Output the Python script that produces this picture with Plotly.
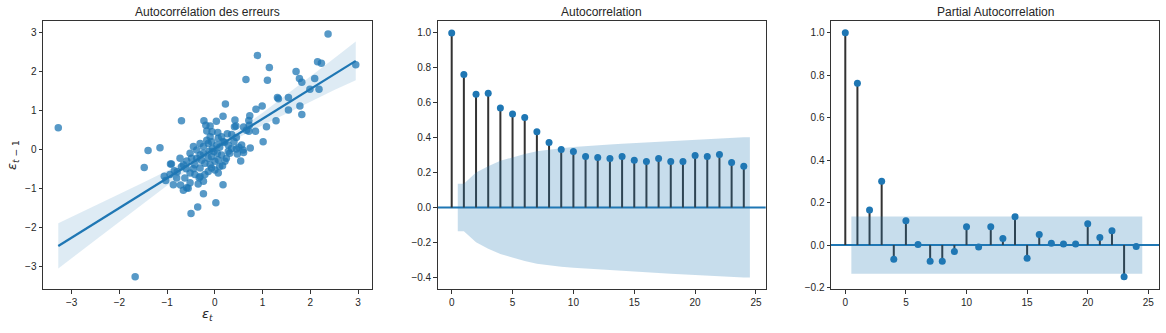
import plotly.graph_objects as go

# ---------------- data ----------------
# residual pairs (eps_t, eps_{t-1})
eps_t = [
    -3.28, -1.67, 2.37, 2.95, 0.89, 1.14, 0.65, 1.10, 1.70, 1.77, 1.82, 2.15, 2.23, 2.09, 1.99, 2.18,
    1.78, 1.82, 1.54, 1.54, 1.31, 1.33, 0.99, 0.86, 0.73, 0.71, 1.28, 1.08, 0.85, 0.71, 1.01, 0.74,
    0.54, 0.60, 0.41, 0.42, 0.44, 0.22, 0.17, 0.03, -0.70, -0.23, -0.19, -0.10, -1.15, -1.40, -1.48,
    -1.06, -1.03, -0.66, -0.56, -0.24, 0.17, 0.02, -0.36, -0.50, -0.35, -0.93,
    -0.17, -0.06, 0.06, 0.26, 0.72, 0.60, 0.66, 0.45, 0.40, 0.56, 0.59, 0.45, 0.24, 0.14, 0.21, 0.16,
    -0.02, 0.04, -0.14, -0.24, -0.45, -0.38, -0.31, -0.52, -0.49, -0.59, -0.66, -0.42, -0.31, -0.21,
    -0.14, -0.07, 0.00, 0.07, -0.52, -0.42, -0.31, -0.21, -0.14, -0.07, -0.33, -0.24, -0.80, -0.87,
    -0.72, -0.94, -0.52, -0.59, -0.17, -0.10, -0.07, 0.07, 0.14, 0.17, 0.28, 0.35, 0.31, -0.31, -0.24,
    -0.38, -0.10, 0.00, 0.10, 0.07, -0.73, -0.79, -0.63, -0.91, 0.50, 0.47, 0.35, 0.10, -0.05, 0.20,
    -0.28, -0.45, -0.60, -0.70, -0.85, 0.28, 0.05, -0.12,
]
eps_lag = [
    0.55, -3.27, 2.96, 2.17, 2.41, 2.10, 1.79, 1.77, 2.00, 1.82, 1.72, 2.25, 2.21, 1.82, 1.54, 1.54,
    1.11, 0.89, 1.33, 1.01, 1.33, 1.30, 1.11, 1.03, 0.86, 0.74, 0.73, 0.58, 0.46, 0.46, 0.19, 0.03,
    -0.30, -0.08, 0.58, 0.75, 0.60, 1.16, 0.85, 0.72, 0.73, 0.73, 0.62, 0.60, 0.04, -0.03, -0.47,
    -0.69, -0.80, -1.05, -1.00, -1.14, -0.91, -1.37, -1.48, -1.65, -0.89, -0.38,
    0.47, 0.45, 0.43, 0.40, 0.62, 0.57, 0.49, 0.30, 0.20, 0.11, -0.02, 0.01, -0.23, -0.15, -0.31, -0.42,
    -0.06, 0.11, 0.15, 0.07, 0.07, -0.02, 0.15, -0.10, -0.23, -0.30, -0.40, -0.40, -0.48, -0.36,
    -0.23, -0.19, -0.31, -0.27, -0.61, -0.65, -0.70, -0.65, -0.57, -0.48, -0.73, -0.82, -0.74, -0.91,
    -0.92, -0.65, -0.86, -0.99, 0.23, 0.32, 0.19, 0.28, 0.32, 0.19, 0.11, 0.02, -0.10, -0.15, -0.10,
    -0.23, -0.40, -0.53, -0.44, -0.61, -0.23, -0.58, -0.74, -0.38, 0.05, -0.12, 0.38, 0.05, 0.02, 0.18,
    -0.28, -0.50, -0.50, -0.45, -0.55, -0.05, -0.10, -0.05,
]

# fitted regression line and its confidence band
fit_slope = 0.763
fit_intercept = 0.02
ci_x = [-3.28, -2.5, -2.0, -1.5, -1.0, -0.5, 0.0, 0.5, 1.0, 1.5, 2.0, 2.5, 2.95]
ci_lo = [-3.06, -2.33, -1.87, -1.39, -0.93, -0.47, -0.05, 0.30, 0.62, 0.92, 1.23, 1.52, 1.77]
ci_hi = [-1.90, -1.45, -1.15, -0.85, -0.55, -0.25, 0.09, 0.50, 0.94, 1.40, 1.87, 2.34, 2.77]

# autocorrelation function
lags = list(range(25))
acf_vals = [1.0, 0.762, 0.649, 0.655, 0.570, 0.536, 0.515, 0.434, 0.372, 0.332, 0.321, 0.292, 0.287,
            0.281, 0.292, 0.270, 0.264, 0.281, 0.264, 0.264, 0.298, 0.292, 0.304, 0.258, 0.236]
# 95% band half-width for lags 1..24
acf_conf = [0.136, 0.200, 0.236, 0.267, 0.289, 0.307, 0.322, 0.333, 0.340, 0.346, 0.352, 0.356,
            0.361, 0.365, 0.369, 0.372, 0.376, 0.380, 0.383, 0.387, 0.391, 0.395, 0.399, 0.402]

# partial autocorrelation function
pacf_vals = [1.0, 0.762, 0.166, 0.301, -0.067, 0.115, 0.003, -0.076, -0.076, -0.030, 0.087, -0.009,
             0.087, 0.031, 0.134, -0.062, 0.050, 0.009, 0.005, 0.005, 0.101, 0.036, 0.068, -0.149, -0.006]
pacf_conf = [0.135] * 24

# ---------------- style ----------------
BLUE = "#1f77b4"
STEM = "#333333"
FRAME = "#333333"
TEXT = "#262626"
FONT = "Liberation Sans, Arial, sans-serif"

W, H = 1166, 333
top_px, bot_px = 21, 293
panels = [(43, 372), (437.7, 765.7), (831, 1159)]
ydom = [1 - bot_px / H, 1 - top_px / H]

fig = go.Figure()

# --- panel 1: scatter with regression fit ---
fig.add_trace(go.Scatter(
    x=eps_t, y=eps_lag, mode="markers", xaxis="x", yaxis="y",
    marker=dict(color=BLUE, size=7.5, opacity=0.75, line=dict(width=0)),
    showlegend=False, hoverinfo="skip"))
fig.add_trace(go.Scatter(
    x=ci_x + ci_x[::-1], y=ci_hi + ci_lo[::-1], mode="lines", fill="toself",
    fillcolor="rgba(31,119,180,0.15)", line=dict(width=0), xaxis="x", yaxis="y",
    showlegend=False, hoverinfo="skip"))
x0, x1 = min(eps_t), max(eps_t)
fig.add_trace(go.Scatter(
    x=[x0, x1], y=[fit_intercept + fit_slope * x0, fit_intercept + fit_slope * x1],
    mode="lines", line=dict(color=BLUE, width=2.2), xaxis="x", yaxis="y",
    showlegend=False, hoverinfo="skip"))


def stem_panel(vals, conf, xa, ya, band):
    sx, sy = [], []
    for k, v in zip(lags, vals):
        sx += [k, k, None]
        sy += [0, v, None]
    fig.add_trace(go.Scatter(x=sx, y=sy, mode="lines", line=dict(color=STEM, width=2),
                             xaxis=xa, yaxis=ya, showlegend=False, hoverinfo="skip"))
    fig.add_trace(go.Scatter(x=lags, y=vals, mode="markers",
                             marker=dict(color=BLUE, size=7, line=dict(width=0)),
                             xaxis=xa, yaxis=ya, showlegend=False, hoverinfo="skip"))
    # band spans half a lag beyond the first and last lag
    bx = [lags[1] - 0.5] + lags[1:] + [lags[-1] + 0.5]
    up = [conf[0]] + conf + [conf[-1]]
    fig.add_trace(go.Scatter(x=bx + bx[::-1], y=up + [-c for c in up[::-1]], mode="lines",
                             fill="toself", fillcolor=band, line=dict(width=0),
                             xaxis=xa, yaxis=ya, showlegend=False, hoverinfo="skip"))


# zero lines (drawn under the confidence band)
for xa, ya in [("x2", "y2"), ("x3", "y3")]:
    fig.add_shape(type="line", xref=f"{xa} domain", yref=ya, x0=0, x1=1, y0=0, y1=0,
                  line=dict(color=BLUE, width=2), layer="below")

stem_panel(acf_vals, acf_conf, "x2", "y2", "rgba(31,119,180,0.25)")
stem_panel(pacf_vals, pacf_conf, "x3", "y3", "rgba(31,119,180,0.25)")

axis_common = dict(showline=True, linecolor=FRAME, linewidth=1, mirror=True,
                   ticks="outside", ticklen=3.5, tickwidth=1, tickcolor=FRAME,
                   showgrid=False, zeroline=False,
                   tickfont=dict(family=FONT, size=10, color=TEXT))


def dom(p):
    return [p[0] / W, p[1] / W]


fig.update_layout(
    width=W, height=H, margin=dict(l=0, r=0, t=0, b=0),
    paper_bgcolor="white", plot_bgcolor="white", showlegend=False,
    xaxis=dict(domain=dom(panels[0]), anchor="y", range=[-3.6, 3.29],
               tickvals=[-3, -2, -1, 0, 1, 2, 3], **axis_common),
    yaxis=dict(domain=ydom, anchor="x", range=[-3.6, 3.3],
               tickvals=[-3, -2, -1, 0, 1, 2, 3], **axis_common),
    xaxis2=dict(domain=dom(panels[1]), anchor="y2", range=[-1.15, 25.8],
                tickvals=[0, 5, 10, 15, 20, 25], **axis_common),
    yaxis2=dict(domain=ydom, anchor="x2", range=[-0.47, 1.07],
                tickvals=[-0.4, -0.2, 0.0, 0.2, 0.4, 0.6, 0.8, 1.0], tickformat=".1f", **axis_common),
    xaxis3=dict(domain=dom(panels[2]), anchor="y3", range=[-1.18, 25.88],
                tickvals=[0, 5, 10, 15, 20, 25], **axis_common),
    yaxis3=dict(domain=ydom, anchor="x3", range=[-0.209, 1.057],
                tickvals=[-0.2, 0.0, 0.2, 0.4, 0.6, 0.8, 1.0], tickformat=".1f", **axis_common),
)

titles = ["Autocorrélation des erreurs", "Autocorrelation", "Partial Autocorrelation"]
for p, t in zip(panels, titles):
    fig.add_annotation(text=t, xref="paper", yref="paper", x=(p[0] + p[1]) / 2 / W, y=ydom[1],
                       xanchor="center", yanchor="bottom", yshift=0, showarrow=False,
                       font=dict(family=FONT, size=12, color=TEXT))

fig.add_annotation(text="<i>ε</i><sub><i>t</i></sub>", xref="paper", yref="paper",
                   x=(panels[0][0] + panels[0][1]) / 2 / W, y=1 - 318 / H,
                   xanchor="center", yanchor="middle", showarrow=False,
                   font=dict(family="DejaVu Sans", size=13, color=TEXT))
fig.add_annotation(text="<i>ε</i><sub><i>t</i> − 1</sub>", xref="paper", yref="paper",
                   x=12 / W, y=(ydom[0] + ydom[1]) / 2, textangle=-90,
                   xanchor="center", yanchor="middle", showarrow=False,
                   font=dict(family="DejaVu Sans", size=13, color=TEXT))

fig.write_html("out.html")
